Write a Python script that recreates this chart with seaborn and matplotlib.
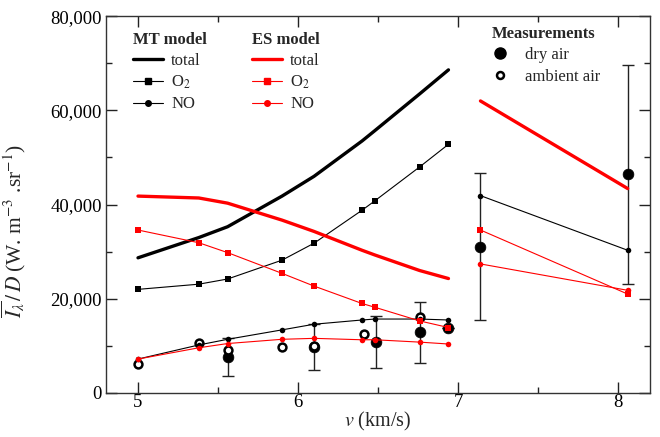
import numpy as np
import pandas as pd
import matplotlib
matplotlib.use("Agg")
import matplotlib.pyplot as plt
from matplotlib.lines import Line2D
from matplotlib.ticker import FuncFormatter, MultipleLocator
import seaborn as sns

# ---------------- data ----------------
v_left = [5.0, 5.38, 5.56, 5.9, 6.1, 6.4, 6.48, 6.76, 6.94]
v_right = [7.14, 8.06]

mt_total_left = [28700, 33000, 35300, 41800, 46000, 53500, 55700, 63500, 68600]
mt_o2_left = [22000, 23100, 24200, 28200, 31800, 38800, 40800, 48000, 52800]
mt_no_left = [7200, 10200, 11400, 13400, 14600, 15500, 15700, 15700, 15500]
mt_no_right = [41900, 30300]

es_total_left = [41800, 41400, 40300, 36700, 34300, 30300, 29300, 26000, 24300]
es_total_right = [62000, 43400]
es_o2_left = [34600, 31900, 29800, 25400, 22700, 19000, 18200, 15300, 13900]
es_o2_right = [34600, 21000]
es_no_left = [7200, 9600, 10500, 11400, 11600, 11300, 11300, 10800, 10400]
es_no_right = [27400, 21800]

dry_v = [5.56, 6.1, 6.49, 6.76, 6.94, 7.14, 8.06]
dry_y = [7700, 9800, 10900, 12900, 13800, 31100, 46400]
dry_err = [4000, 4900, 5500, 6500, 0, 15600, 23200]

amb_v = [5.0, 5.38, 5.56, 5.9, 6.1, 6.41, 6.76]
amb_y = [6100, 10700, 9100, 9700, 10000, 12600, 16200]

x_ticks = [5, 6, 7, 8]
y_ticks = [0, 20000, 40000, 60000, 80000]

# ---------------- style ----------------
sns.set_style("ticks")
plt.rcParams["font.family"] = ["Liberation Serif", "DejaVu Serif"]
plt.rcParams["mathtext.fontset"] = "stix"

fig = plt.figure(figsize=(6.6, 4.37), dpi=100)
ax = fig.add_axes([0.1606, 0.1007, 0.985 - 0.1606, 0.963 - 0.1007])

RED = "#ff0000"


def seg_frame(xl, yl, xr=None, yr=None):
    parts = [pd.DataFrame({"v": xl, "y": yl, "seg": 0})]
    if xr is not None:
        parts.append(pd.DataFrame({"v": xr, "y": yr, "seg": 1}))
    return pd.concat(parts, ignore_index=True)


# measurements (drawn underneath the model curves)
dry_df = pd.DataFrame({"v": dry_v, "y": dry_y, "err": dry_err})
amb_df = pd.DataFrame({"v": amb_v, "y": amb_y})
ax.errorbar(dry_df["v"], dry_df["y"], yerr=dry_df["err"], fmt="none",
            ecolor="#222222", elinewidth=1.0, capsize=4.5, capthick=1.0, zorder=1)
sns.scatterplot(data=dry_df, x="v", y="y", ax=ax, color="black", s=60,
                edgecolor="black", linewidth=0.5, zorder=2, legend=False)
sns.scatterplot(data=amb_df, x="v", y="y", ax=ax, facecolor="white", s=32,
                edgecolor="black", linewidth=1.8, zorder=2, legend=False)

# model curves
curves = [
    (seg_frame(v_left, mt_total_left), "black", 2.4, None, 0),
    (seg_frame(v_left, mt_o2_left), "black", 0.8, "s", 4.5),
    (seg_frame(v_left, mt_no_left, v_right, mt_no_right), "black", 0.8, "o", 4),
    (seg_frame(v_left, es_total_left, v_right, es_total_right), RED, 2.4, None, 0),
    (seg_frame(v_left, es_o2_left, v_right, es_o2_right), RED, 0.8, "s", 4.5),
    (seg_frame(v_left, es_no_left, v_right, es_no_right), RED, 0.8, "o", 4),
]
for df, col, lw, mk, ms in curves:
    kw = {}
    if mk:
        kw = dict(marker=mk, markersize=ms, markeredgewidth=0,
                  markerfacecolor=col)
    sns.lineplot(data=df, x="v", y="y", units="seg", estimator=None, ax=ax,
                 color=col, linewidth=lw, zorder=3, sort=False, legend=False, **kw)

# ---------------- axes ----------------
ax.set_xlim(4.8, 8.2)
ax.set_ylim(0, 80000)
ax.set_xticks(x_ticks)
ax.set_yticks(y_ticks)
ax.xaxis.set_minor_locator(MultipleLocator(0.5))
ax.yaxis.set_minor_locator(MultipleLocator(10000))
ax.yaxis.set_major_formatter(FuncFormatter(lambda v, p: f"{v:,.0f}"))
ax.tick_params(which="both", direction="in", top=True, right=True,
               colors="#222222", labelcolor="black", labelsize=13.5)
ax.tick_params(which="major", length=8, width=1, pad=3)
ax.tick_params(axis="x", which="major", pad=1)
ax.tick_params(which="minor", length=4.5, width=1)
for s in ax.spines.values():
    s.set_visible(True)
    s.set_linewidth(1.0)
    s.set_color("#333333")

ax.set_xlabel(r"$\it{v}$ (km/s)", fontsize=14.5, labelpad=-1)
ax.set_ylabel(r"$\overline{I_{\lambda}}\,/\,D\;$(W. m$^{-3}$ .sr$^{-1}$)",
              fontsize=15.5)
ax.yaxis.set_label_coords(-0.143, 0.43)

# ---------------- legends ----------------
lfs = 12


def make_legend(handles, labels, title, anchor, hl=1.8, spacing=0.3, tpad=0.5):
    leg = ax.legend(handles, labels, title=title, loc="upper left",
                    bbox_to_anchor=anchor, bbox_transform=fig.transFigure,
                    frameon=False, fontsize=lfs, handlelength=hl,
                    handletextpad=tpad, labelspacing=spacing, borderpad=0,
                    borderaxespad=0, alignment="left",
                    title_fontproperties={"weight": "bold", "size": lfs})
    return leg


mt_handles = [Line2D([], [], color="black", lw=2.4),
              Line2D([], [], color="black", lw=0.8, marker="s", ms=5),
              Line2D([], [], color="black", lw=0.8, marker="o", ms=4)]
es_handles = [Line2D([], [], color=RED, lw=2.4),
              Line2D([], [], color=RED, lw=0.8, marker="s", ms=5),
              Line2D([], [], color=RED, lw=0.8, marker="o", ms=4)]
labels3 = ["total", "O$_2$", "NO"]
leg1 = make_legend(mt_handles, labels3, "MT model", (133 / 660, 1 - 32 / 437))
ax.add_artist(leg1)
leg2 = make_legend(es_handles, labels3, "ES model", (252 / 660, 1 - 32 / 437))
ax.add_artist(leg2)
meas_handles = [Line2D([], [], ls="none", marker="o", ms=8, color="black"),
                Line2D([], [], ls="none", marker="o", ms=5, mfc="white",
                       mec="black", mew=1.8)]
leg3 = make_legend(meas_handles, ["dry air", "ambient air"], "Measurements",
                   (492 / 660, 1 - 26 / 437), hl=1.0, spacing=0.32, tpad=1.0)

fig.savefig("out.png", dpi=100)
